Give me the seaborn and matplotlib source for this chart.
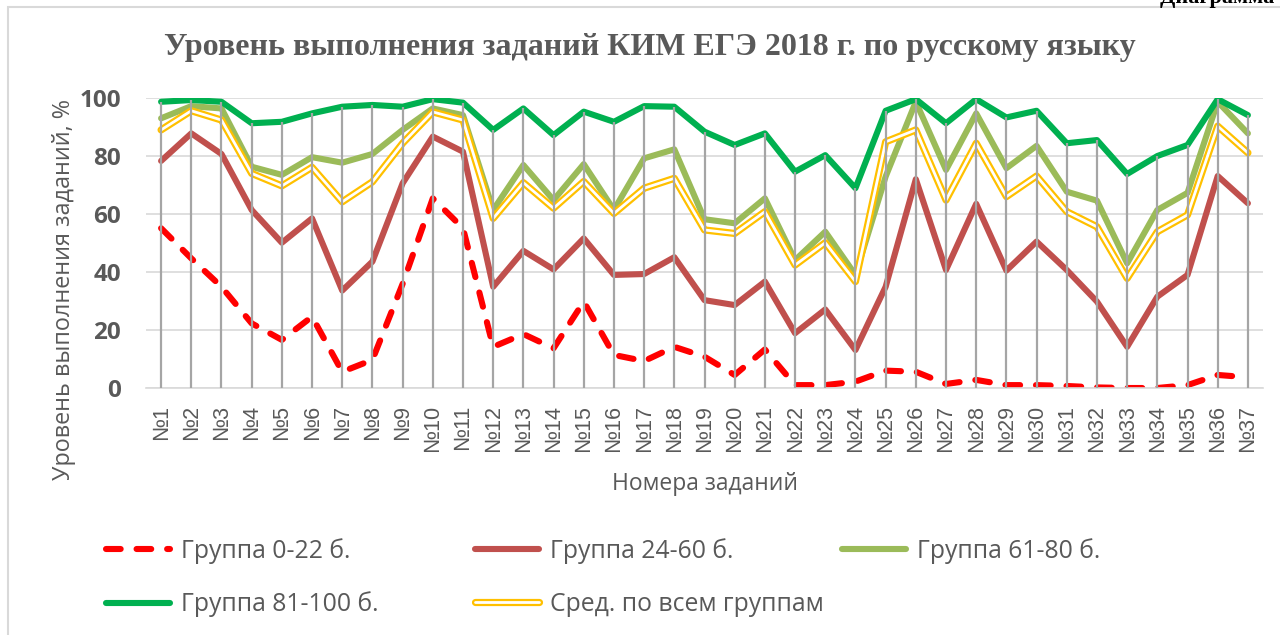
import numpy as np
import pandas as pd
import matplotlib.pyplot as plt
import seaborn as sns
from matplotlib.lines import Line2D
from matplotlib.patches import Rectangle
from matplotlib.legend_handler import HandlerTuple

tasks = [f"№{i}" for i in range(1, 38)]

g0_22 = [55.2, 44.8, 35.0, 22.4, 16.7, 24.7, 5.7, 9.8, 36.0, 65.5, 55.2, 14.3, 18.7, 13.8, 29.9,
         11.5, 9.4, 14.3, 10.9, 4.6, 13.4, 1.1, 1.1, 2.3, 6.1, 5.7, 1.5, 2.9, 1.1, 1.1, 0.8,
         0.3, 0.1, 0.1, 1.1, 4.6, 3.8]
g24_60 = [78.4, 87.9, 80.8, 61.5, 50.2, 58.6, 33.7, 43.7, 70.7, 86.8, 81.6, 35.0, 47.4, 41.0, 51.7,
          39.1, 39.4, 45.2, 30.4, 28.7, 36.8, 19.0, 27.2, 13.2, 35.0, 72.1, 40.8, 63.6, 40.6, 50.6,
          40.8, 29.9, 14.3, 31.6, 39.1, 73.2, 63.8]
g61_80 = [93.1, 97.3, 96.5, 76.4, 73.6, 79.7, 77.8, 80.8, 89.1, 96.5, 94.2, 61.5, 77.0, 64.9, 77.3,
          61.5, 79.3, 82.4, 58.3, 56.9, 65.5, 44.2, 54.0, 39.1, 73.0, 98.8, 75.3, 94.8, 75.9, 83.6,
          67.8, 64.7, 43.1, 61.5, 67.4, 98.8, 87.9]
g81_100 = [98.8, 99.4, 98.8, 91.4, 91.9, 94.8, 97.1, 97.7, 97.1, 99.7, 98.5, 89.1, 96.5, 87.3, 95.4,
           91.9, 97.3, 97.1, 88.5, 83.9, 87.9, 74.7, 80.4, 69.0, 95.7, 99.7, 91.4, 99.7, 93.4, 95.7,
           84.5, 85.6, 73.9, 80.1, 83.9, 99.7, 94.2]
avg_all = [89.1, 95.7, 92.5, 74.1, 69.8, 76.2, 64.3, 71.2, 84.5, 95.3, 92.5, 58.6, 70.9, 62.1, 71.3,
           60.3, 69.0, 72.4, 54.6, 53.4, 60.9, 42.5, 50.2, 36.8, 85.0, 89.1, 64.9, 84.5, 66.1, 73.2,
           60.9, 55.7, 37.9, 54.0, 59.8, 90.4, 81.2]

labels = ["Группа 0-22 б.", "Группа 24-60 б.", "Группа 61-80 б.",
          "Группа 81-100 б.", "Сред. по всем группам"]

sns.set_theme(style="white")
plt.rcParams["font.family"] = ["Open Sans", "DejaVu Sans"]

grey = "#595959"
c_red, c_brown, c_lgreen, c_green, c_yellow = "#FF0000", "#C0504D", "#9BBB59", "#00B050", "#FFC000"
dash = (0, (2.4, 2.6))
lw = 4.4

fig = plt.figure(figsize=(12.8, 6.35), dpi=100)
ax = fig.add_axes([146 / 1280, 1 - 388.3 / 635, 1117 / 1280, 290 / 635])

common = dict(ax=ax, sort=False, solid_joinstyle="round", solid_capstyle="round")
sns.lineplot(x=tasks, y=g0_22, color=c_red, lw=lw, linestyle=dash,
             dash_capstyle="round", dash_joinstyle="round", ax=ax, sort=False)
sns.lineplot(x=tasks, y=g24_60, color=c_brown, lw=lw, **common)
sns.lineplot(x=tasks, y=g61_80, color=c_lgreen, lw=lw, **common)
sns.lineplot(x=tasks, y=g81_100, color=c_green, lw=lw, **common)
sns.lineplot(x=tasks, y=avg_all, color=c_yellow, lw=5.2, **common)
sns.lineplot(x=tasks, y=avg_all, color="white", lw=2.0, **common)

# drop lines from the top series down to the axis
tops = np.max([g0_22, g24_60, g61_80, g81_100, avg_all], axis=0)
ax.vlines(tasks, 0, tops, color="#A5A5A5", lw=1.6, zorder=5)

ax.set_xlim(-0.5, 36.5)
ax.set_ylim(0, 100)
ax.set_yticks(range(0, 101, 20))
ax.grid(axis="y", color="#D9D9D9", lw=1.2)
ax.grid(axis="x", visible=False)
for s in ["left", "right", "top"]:
    ax.spines[s].set_visible(False)
ax.spines["bottom"].set_color("#D9D9D9")
ax.spines["bottom"].set_linewidth(1.2)

ax.tick_params(axis="x", length=0, pad=12, labelrotation=90, labelsize=15.5, labelcolor=grey)
ax.tick_params(axis="y", length=0, pad=18, labelsize=17.5, labelcolor=grey)
for t in ax.get_xticklabels():
    t.set_family("Liberation Sans")
for t in ax.get_yticklabels():
    t.set_fontweight("bold")

ax.set_xlabel("Номера заданий", fontsize=16.5, color=grey, labelpad=14)
ax.set_ylabel("Уровень выполнения заданий, %", fontsize=16.8, color=grey)
ax.yaxis.set_label_coords(-0.063, 0.34)

fig.text(0.508, 1 - 48 / 635, "Уровень выполнения заданий КИМ ЕГЭ 2018 г. по русскому языку",
         ha="center", va="center", fontsize=23, fontweight="bold",
         family="Liberation Serif", color=grey)
fig.text(1160 / 1280, 1 - 3 / 635, "Диаграмма 1", ha="left", va="baseline", fontsize=16,
         fontweight="bold", family="Liberation Serif", color="black")

fig.add_artist(Rectangle((8 / 1280, -0.1), 1.2, 1.1 - 7.5 / 635, transform=fig.transFigure,
                         fill=False, edgecolor="#D9D9D9", lw=1.5))

h_red = Line2D([], [], color=c_red, lw=lw, linestyle=dash, dash_capstyle="round")
h_brown = Line2D([], [], color=c_brown, lw=lw, solid_capstyle="round")
h_lgreen = Line2D([], [], color=c_lgreen, lw=lw, solid_capstyle="round")
h_green = Line2D([], [], color=c_green, lw=lw, solid_capstyle="round")
h_avg = (Line2D([], [], color=c_yellow, lw=5.2, solid_capstyle="round"),
         Line2D([], [], color="white", lw=2.0, solid_capstyle="round"))

leg_kw = dict(loc="upper left", frameon=False, borderpad=0, borderaxespad=0,
              handlelength=2.6, handletextpad=0.45, labelspacing=1.12, fontsize=17.8,
              labelcolor=grey, handler_map={tuple: HandlerTuple(ndivide=1)})
y_leg = 1 - 538 / 635
fig.legend([h_red, h_green], [labels[0], labels[3]], bbox_to_anchor=(106 / 1280, y_leg), **leg_kw)
fig.legend([h_brown, h_avg], [labels[1], labels[4]], bbox_to_anchor=(475 / 1280, y_leg), **leg_kw)
fig.legend([h_lgreen], [labels[2]], bbox_to_anchor=(842 / 1280, y_leg), **leg_kw)

fig.savefig("out.png", dpi=100)
